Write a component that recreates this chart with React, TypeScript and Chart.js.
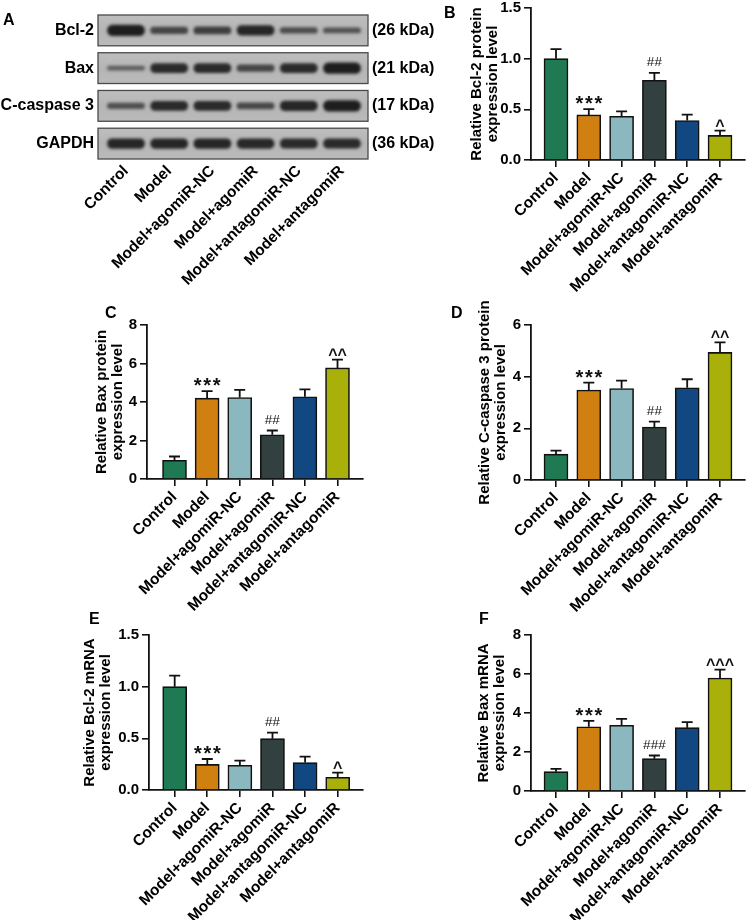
import React, { useEffect, useRef } from 'react';
import { Chart, registerables } from 'chart.js';

Chart.register(...registerables);

const FONT = "'Liberation Sans', Arial, sans-serif";

// ---------- categories ----------
const groups = ['Control', 'Model', 'Model+agomiR-NC', 'Model+agomiR', 'Model+antagomiR-NC', 'Model+antagomiR'];
const groupColors = ['#1f7a54', '#cf8010', '#8ab8be', '#324040', '#124882', '#aab00a'];

// ---------- western blot (band intensities 0..1 per lane) ----------
const blotProteins = ['Bcl-2', 'Bax', 'C-caspase 3', 'GAPDH'];
const blotSizes = ['(26 kDa)', '(21 kDa)', '(17 kDa)', '(36 kDa)'];
const bandBcl2 = [1.0, 0.5, 0.6, 0.9, 0.42, 0.35];
const bandBax = [0.2, 0.85, 0.85, 0.5, 0.85, 1.0];
const bandCasp3 = [0.38, 0.85, 0.85, 0.48, 0.9, 1.0];
const bandGapdh = [0.9, 0.9, 0.9, 0.88, 0.85, 0.85];
const bandRows = [bandBcl2, bandBax, bandCasp3, bandGapdh];

// ---------- B: Bcl-2 protein ----------
const bcl2Protein = [1.0, 0.445, 0.432, 0.786, 0.39, 0.243];
const bcl2ProteinErr = [0.094, 0.058, 0.048, 0.074, 0.058, 0.046];
const bcl2ProteinMarks = ['', '***', '', '##', '', '^'];
const bcl2ProteinTicks = [0, 0.5, 1.0, 1.5];

// ---------- C: Bax protein ----------
const baxProtein = [0.97, 4.2, 4.23, 2.3, 4.27, 5.77];
const baxProteinErr = [0.2, 0.36, 0.4, 0.22, 0.39, 0.43];
const baxProteinMarks = ['', '***', '', '##', '', '^^'];
const baxProteinTicks = [0, 2, 4, 6, 8];

// ---------- D: C-caspase 3 protein ----------
const casp3Protein = [1.0, 3.48, 3.54, 2.05, 3.57, 4.94];
const casp3ProteinErr = [0.14, 0.29, 0.31, 0.21, 0.33, 0.39];
const casp3ProteinMarks = ['', '***', '', '##', '', '^^'];
const casp3ProteinTicks = [0, 2, 4, 6];

// ---------- E: Bcl-2 mRNA ----------
const bcl2Mrna = [1.0, 0.248, 0.239, 0.497, 0.265, 0.123];
const bcl2MrnaErr = [0.106, 0.052, 0.045, 0.058, 0.058, 0.045];
const bcl2MrnaMarks = ['', '***', '', '##', '', '^'];
const bcl2MrnaTicks = [0, 0.5, 1.0, 1.5];

// ---------- F: Bax mRNA ----------
const baxMrna = [0.99, 3.29, 3.37, 1.66, 3.25, 5.79];
const baxMrnaErr = [0.14, 0.31, 0.33, 0.16, 0.28, 0.43];
const baxMrnaMarks = ['', '***', '', '###', '', '^^^'];
const baxMrnaTicks = [0, 2, 4, 6, 8];

const BOX = 0.816; // blot strip height in row units

function blotConfig(): any {
  const stripPlugin = {
    id: 'blotStrips',
    beforeDatasetsDraw(chart: any) {
      const { ctx, chartArea, scales } = chart;
      const y = scales.y;
      ctx.save();
      blotProteins.forEach((_, r) => {
        const top = y.getPixelForValue(r);
        const bot = y.getPixelForValue(r + BOX);
        const g = ctx.createLinearGradient(0, top, 0, bot);
        g.addColorStop(0, '#bebebe');
        g.addColorStop(0.5, '#b5b5b5');
        g.addColorStop(1, '#bababa');
        ctx.fillStyle = g;
        ctx.fillRect(chartArea.left, top, chartArea.right - chartArea.left, bot - top);
        ctx.strokeStyle = '#4a4a4a';
        ctx.lineWidth = 1.3;
        ctx.strokeRect(chartArea.left, top, chartArea.right - chartArea.left, bot - top);
      });
      ctx.restore();
    },
    beforeDatasetDraw(chart: any) {
      chart.ctx.save();
      chart.ctx.filter = 'blur(1.4px)';
    },
    afterDatasetDraw(chart: any) {
      chart.ctx.restore();
    },
  };
  const labelFont = { family: FONT, size: 16, weight: 'bold' as const };
  return {
    type: 'bar',
    data: {
      datasets: bandRows.map((row, r) => ({
        data: row.map((v, l) => {
          const c = r + BOX / 2;
          const h = 0.03 + 0.11 * v;
          return { x: l + 1, y: [c - h, c + h] };
        }),
        backgroundColor: row.map((v) => `rgba(22,22,22,${0.45 + 0.5 * v})`),
        borderWidth: 0,
        borderRadius: 9,
        borderSkipped: false,
        grouped: false,
        barThickness: 37,
      })),
    },
    options: {
      animation: false,
      responsive: false,
      devicePixelRatio: 1,
      layout: { padding: { left: 0, top: 15, right: 0, bottom: 0 } },
      plugins: { legend: { display: false }, tooltip: { enabled: false } },
      scales: {
        x: {
          type: 'linear',
          min: 0.352,
          max: 6.602,
          offset: false,
          afterBuildTicks: (s: any) => { s.ticks = groups.map((_, i) => ({ value: i + 1 })); },
          afterFit: (s: any) => { s.height = 151; },
          ticks: {
            callback: (v: any) => groups[Math.round(v) - 1],
            autoSkip: false, maxRotation: 45, minRotation: 45, padding: 3,
            font: { family: FONT, size: 15.5, weight: 'bold' }, color: '#000',
          },
          grid: { display: false, drawTicks: false, offset: false },
          border: { display: false },
        },
        y: {
          type: 'linear', position: 'left', reverse: true, min: 0, max: 3 + BOX,
          afterBuildTicks: (s: any) => { s.ticks = blotProteins.map((_, i) => ({ value: i + BOX / 2 })); },
          afterFit: (s: any) => { s.width = 98; },
          ticks: { callback: (_v: any, i: number) => blotProteins[i], padding: 4, font: labelFont, color: '#000' },
          grid: { display: false, drawTicks: false },
          border: { display: false },
        },
        y2: {
          type: 'linear', position: 'right', reverse: true, min: 0, max: 3 + BOX,
          afterBuildTicks: (s: any) => { s.ticks = blotSizes.map((_, i) => ({ value: i + BOX / 2 })); },
          afterFit: (s: any) => { s.width = 72; },
          ticks: { callback: (_v: any, i: number) => blotSizes[i], padding: 4, font: labelFont, color: '#000' },
          grid: { display: false, drawTicks: false },
          border: { display: false },
        },
      },
    },
    plugins: [stripPlugin],
  };
}

type BarParams = {
  values: number[]; errs: number[]; marks: string[]; ticks: number[]; decimals: number;
  title: string[]; padLeft: number; yWidth: number; padTop: number; padRight: number; xHeight: number;
  xMin: number; xMax: number;
};

function barConfig(p: BarParams): any {
  const errPlugin = {
    id: 'errorBarsAndMarks',
    afterDatasetsDraw(chart: any) {
      const { ctx, scales } = chart;
      const y = scales.y;
      const meta = chart.getDatasetMeta(0);
      ctx.save();
      ctx.strokeStyle = '#111';
      ctx.lineWidth = 1.8;
      meta.data.forEach((bar: any, i: number) => {
        const x = bar.x;
        const yv = y.getPixelForValue(p.values[i]);
        const ye = y.getPixelForValue(p.values[i] + p.errs[i]);
        ctx.beginPath();
        ctx.moveTo(x, yv);
        ctx.lineTo(x, ye);
        ctx.moveTo(x - 5.5, ye);
        ctx.lineTo(x + 5.5, ye);
        ctx.stroke();
        const m = p.marks[i];
        if (m) {
          ctx.fillStyle = '#111';
          ctx.textAlign = 'center';
          ctx.textBaseline = 'alphabetic';
          let pitch = 9;
          let base = ye;
          if (m[0] === '*') {
            ctx.font = `bold 20px ${FONT}`;
            pitch = 9.5;
            base = ye + 1;
          } else if (m[0] === '#') {
            ctx.font = `13.5px ${FONT}`;
            pitch = 7.6;
            base = ye - 6.5;
          } else {
            ctx.font = `bold 16px ${FONT}`;
            pitch = 9.4;
            base = ye;
          }
          for (let k = 0; k < m.length; k++) {
            ctx.fillText(m[k], x + (k - (m.length - 1) / 2) * pitch, base);
          }
        }
      });
      ctx.restore();
    },
  };
  const yMax = p.ticks[p.ticks.length - 1];
  return {
    type: 'bar',
    data: {
      datasets: [{
        data: p.values.map((v, i) => ({ x: i + 1, y: v })),
        backgroundColor: groupColors,
        borderColor: '#111',
        borderWidth: 1.6,
        borderSkipped: 'start',
        barThickness: 24,
      }],
    },
    options: {
      animation: false,
      responsive: false,
      devicePixelRatio: 1,
      layout: { padding: { left: p.padLeft, top: p.padTop, right: p.padRight, bottom: 0 } },
      plugins: { legend: { display: false }, tooltip: { enabled: false } },
      scales: {
        x: {
          type: 'linear', min: p.xMin, max: p.xMax, offset: false,
          afterBuildTicks: (s: any) => { s.ticks = groups.map((_, i) => ({ value: i + 1 })); },
          afterFit: (s: any) => { s.height = p.xHeight; },
          ticks: {
            callback: (v: any) => groups[Math.round(v) - 1],
            autoSkip: false, maxRotation: 45, minRotation: 45, padding: 2,
            font: { family: FONT, size: 15.5, weight: 'bold' }, color: '#000',
          },
          grid: { display: true, drawOnChartArea: false, drawTicks: true, tickLength: 7, color: '#111', lineWidth: 1.6, offset: false },
          border: { display: true, color: '#111', width: 1.8 },
        },
        y: {
          type: 'linear', min: 0, max: yMax,
          afterBuildTicks: (s: any) => { s.ticks = p.ticks.map((v) => ({ value: v })); },
          afterFit: (s: any) => { s.width = p.yWidth; },
          ticks: {
            callback: (v: any) => Number(v).toFixed(p.decimals),
            padding: 3, font: { family: FONT, size: 15, weight: 'bold' }, color: '#000',
          },
          grid: { display: true, drawOnChartArea: false, drawTicks: true, tickLength: 7, color: '#111', lineWidth: 1.6 },
          border: { display: true, color: '#111', width: 1.8 },
          title: {
            display: true, text: p.title, color: '#000', padding: 0,
            font: { family: FONT, size: 15, weight: 'bold', lineHeight: 1.04 },
          },
        },
      },
    },
    plugins: [errPlugin],
  };
}

function ChartCanvas(props: { make: () => any; left: number; top: number; width: number; height: number }) {
  const ref = useRef<HTMLCanvasElement>(null);
  useEffect(() => {
    const chart = new Chart(ref.current as HTMLCanvasElement, props.make());
    return () => chart.destroy();
  }, []);
  return (
    <canvas
      ref={ref}
      width={props.width}
      height={props.height}
      style={{ position: 'absolute', left: props.left, top: props.top, width: props.width, height: props.height }}
    />
  );
}

const letterStyle = (left: number, top: number): React.CSSProperties => ({
  position: 'absolute', left, top, font: `bold 16px ${FONT}`, lineHeight: '16px', color: '#000',
});

export default function App() {
  return (
    <div style={{ position: 'absolute', left: 0, top: 0, width: 746, height: 920, overflow: 'hidden', background: '#fff' }}>
      <ChartCanvas make={blotConfig} left={0} top={0} width={440} height={310} />
      <ChartCanvas
        left={430} top={-4} width={316} height={340}
        make={() => barConfig({
          values: bcl2Protein, errs: bcl2ProteinErr, marks: bcl2ProteinMarks, ticks: bcl2ProteinTicks, decimals: 1,
          title: ['Relative Bcl-2 protein', 'expression level'],
          padLeft: 39, yWidth: 62, padTop: 10, padRight: 1, xHeight: 176, xMin: 0.238, xMax: 6.762,
        })}
      />
      <ChartCanvas
        left={0} top={290} width={373} height={330}
        make={() => barConfig({
          values: baxProtein, errs: baxProteinErr, marks: baxProteinMarks, ticks: baxProteinTicks, decimals: 0,
          title: ['Relative Bax protein', 'expression level'],
          padLeft: 94, yWidth: 53, padTop: 35, padRight: 10, xHeight: 141, xMin: 0.156, xMax: 6.782,
        })}
      />
      <ChartCanvas
        left={380} top={290} width={366} height={330}
        make={() => barConfig({
          values: casp3Protein, errs: casp3ProteinErr, marks: casp3ProteinMarks, ticks: casp3ProteinTicks, decimals: 0,
          title: ['Relative C-caspase 3 protein', 'expression level'],
          padLeft: 97, yWidth: 54, padTop: 35, padRight: 1, xHeight: 140, xMin: 0.238, xMax: 6.762,
        })}
      />
      <ChartCanvas
        left={0} top={600} width={373} height={320}
        make={() => barConfig({
          values: bcl2Mrna, errs: bcl2MrnaErr, marks: bcl2MrnaMarks, ticks: bcl2MrnaTicks, decimals: 1,
          title: ['Relative Bcl-2 mRNA', 'expression level'],
          padLeft: 82, yWidth: 67, padTop: 35, padRight: 10, xHeight: 130, xMin: 0.212, xMax: 6.776,
        })}
      />
      <ChartCanvas
        left={380} top={600} width={366} height={320}
        make={() => barConfig({
          values: baxMrna, errs: baxMrnaErr, marks: baxMrnaMarks, ticks: baxMrnaTicks, decimals: 0,
          title: ['Relative Bax mRNA', 'expression level'],
          padLeft: 96, yWidth: 55, padTop: 35, padRight: 1, xHeight: 129, xMin: 0.238, xMax: 6.762,
        })}
      />
      <div style={letterStyle(3, 12)}>A</div>
      <div style={letterStyle(444, 5)}>B</div>
      <div style={letterStyle(105, 305)}>C</div>
      <div style={letterStyle(451, 305)}>D</div>
      <div style={letterStyle(89, 611)}>E</div>
      <div style={letterStyle(479, 611)}>F</div>
    </div>
  );
}
